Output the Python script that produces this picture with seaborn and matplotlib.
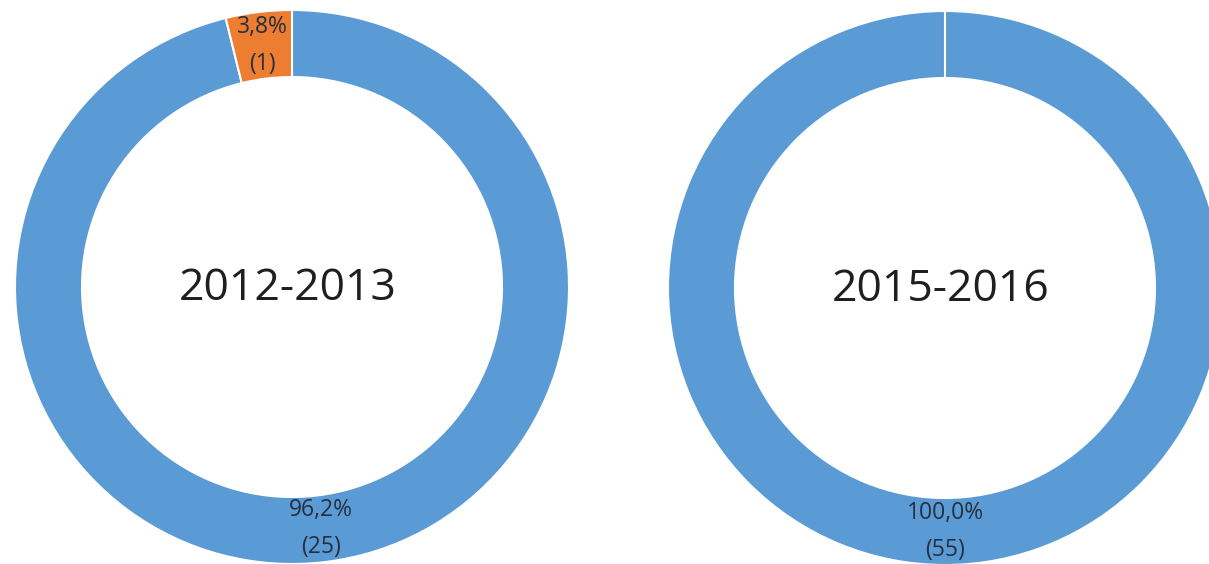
import matplotlib
matplotlib.use("Agg")
import matplotlib.pyplot as plt
import seaborn as sns

# two school years, share of answers (count of cases)
periods = ["2012-2013", "2015-2016"]
categories = ["A", "B"]
counts_2012 = [25, 1]
counts_2015 = [55, 0]

colors = ["#5B9BD5", "#ED7D31"]

sns.set_theme(style="white")
plt.rcParams["font.family"] = ["Open Sans", "DejaVu Sans"]

fig = plt.figure(figsize=(12.09, 5.64), dpi=100)
ax = fig.add_axes([0, 0, 1, 1])

H = 564
centers = [(292, H - 287), (945, H - 288)]
radius = 277
ring = 67


def make_label(counts):
    total = sum(counts)

    def fmt(pct):
        n = int(round(pct * total / 100))
        if n == 0:
            return ""
        return f"{pct:.1f}%".replace(".", ",") + f"\n({n})"
    return fmt


for period, counts, c in zip(periods, [counts_2012, counts_2015], centers):
    wedges, texts, autotexts = ax.pie(
        counts, colors=colors, center=c, radius=radius,
        startangle=90, counterclock=False,
        autopct=make_label(counts), pctdistance=(radius - ring / 2) / radius,
        wedgeprops=dict(width=ring, edgecolor="white", linewidth=1.5),
        textprops=dict(fontsize=16.5, color="#262f3f"),
    )
    for t in autotexts:
        t.set_linespacing(1.7)
    ax.text(c[0] - 4, c[1] - 2, period, ha="center", va="center",
            fontsize=32, color="#1f1f1f")

ax.set_xlim(0, 1209)
ax.set_ylim(0, H)
ax.set_aspect("equal")
ax.axis("off")

fig.savefig("out.png", dpi=100)
